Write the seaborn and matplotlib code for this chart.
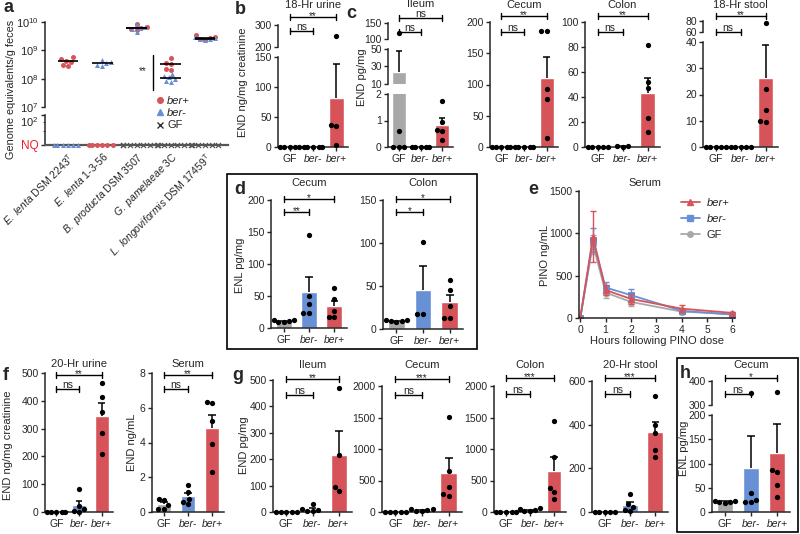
import numpy as np
import pandas as pd
import matplotlib
matplotlib.use("Agg")
import matplotlib.pyplot as plt
import seaborn as sns
from matplotlib.lines import Line2D
from matplotlib.patches import Rectangle
from matplotlib.transforms import blended_transform_factory, Bbox, TransformedBbox

sns.set_style("ticks")
plt.rcParams["font.family"] = ["Liberation Sans", "DejaVu Sans"]
plt.rcParams["mathtext.fontset"] = "custom"
plt.rcParams["mathtext.rm"] = "Liberation Sans"
plt.rcParams["mathtext.it"] = "Liberation Sans:italic"
plt.rcParams["axes.linewidth"] = 1.1
plt.rcParams["xtick.major.width"] = 1.0
plt.rcParams["ytick.major.width"] = 1.0
plt.rcParams["xtick.major.size"] = 3
plt.rcParams["ytick.major.size"] = 3
plt.rcParams["ytick.minor.size"] = 1.8
plt.rcParams["xtick.labelsize"] = 7.5
plt.rcParams["ytick.labelsize"] = 7.5
plt.rcParams["xtick.major.pad"] = 2
plt.rcParams["ytick.major.pad"] = 1.5

W, H = 800, 534
RED, BLUE, GRAY = "#d65459", "#6890d4", "#a8a8a8"
GROUPS = ["GF", "ber-", "ber+"]
PALETTE = dict(zip(GROUPS, [GRAY, BLUE, RED]))

# ---- a: genome equivalents / g feces
a_species = ["E. lenta DSM 2243", "E. lenta 1-3-56", "B. producta DSM 3507",
             "G. pamelaeae 3C", "L. longoviformis DSM 17459"]
a_labels = [r"$\it{E.\ lenta}$ DSM 2243$^{\rm T}$", r"$\it{E.\ lenta}$ 1-3-56",
            r"$\it{B.\ producta}$ DSM 3507", r"$\it{G.\ pamelaeae}$ 3C",
            r"$\it{L.\ longoviformis}$ DSM 17459$^{\rm T}$"]
a_ber_plus = [[5.6e8, 4.8e8, 4.2e8, 3.9e8, 3.0e8, 2.8e8], [],
              [8.2e9, 6.6e9, 6.2e9, 5.8e9, 5.4e9],
              [5.4e8, 3.6e8, 3.3e8, 2.2e8, 2.0e8],
              [3.4e9, 2.9e9, 2.7e9, 2.6e9, 2.4e9]]
a_ber_minus = [[], [4.6e8, 3.8e8, 3.5e8, 3.0e8, 2.7e8],
               [8.6e9, 6.9e9, 6.3e9, 5.6e9, 4.6e9],
               [1.5e8, 1.25e8, 1.1e8, 9.5e7, 8.0e7, 7.5e7],
               [3.0e9, 2.8e9, 2.6e9, 2.5e9, 2.3e9]]
a_nq_plus = [0, 6, 0, 0, 0]
a_nq_minus = [6, 0, 0, 0, 0]
a_nq_gf = [0, 0, 6, 6, 6]
NQ = 1.0

# ---- b-d, f-h: per-mouse values
b_urine = {"GF": [0, 0, 0, 0, 0], "ber-": [0, 0, 0, 0, 0], "ber+": [250, 36, 35, 3]}
c_ileum = {"GF": [120, 0.6, 0, 0, 0], "ber-": [0, 0, 0, 0, 0], "ber+": [1.75, 0.95, 0.65, 0.6, 0.25]}
c_cecum = {"GF": [0, 0, 0, 0, 0], "ber-": [0, 0, 0, 0, 0], "ber+": [185, 185, 93, 77, 14]}
c_colon = {"GF": [0, 0, 0, 0, 0], "ber-": [1, 0.5, 0], "ber+": [82, 52, 47, 23, 12]}
c_stool = {"GF": [0, 0, 0, 0, 0], "ber-": [0, 0, 0, 0, 0], "ber+": [76, 22, 14, 10, 9.5]}
d_cecum = {"GF": [13, 12, 11, 10, 9], "ber-": [146, 50, 37, 24, 24], "ber+": [63, 45, 27, 17, 17]}
d_colon = {"GF": [10, 10, 9, 9, 8], "ber-": [101, 17, 17], "ber+": [57, 45, 27, 13, 13]}
f_urine = {"GF": [0, 0, 0, 0, 0], "ber-": [82, 22, 10, 5, 0], "ber+": [465, 415, 360, 285, 210]}
f_serum = {"GF": [0.75, 0.7, 0.4, 0.2, 0.2], "ber-": [1.55, 1.15, 0.75, 0.6, 0.45],
           "ber+": [6.35, 6.25, 5.25, 3.9, 2.3]}
g_ileum = {"GF": [0, 0, 0, 0, 0], "ber-": [32, 10, 6, 4, 2], "ber+": [470, 215, 95, 80]}
g_cecum = {"GF": [0, 0, 0, 0, 0], "ber-": [55, 40, 30, 20, 10], "ber+": [1510, 650, 400, 280, 250]}
g_colon = {"GF": [0, 0, 0, 0, 0], "ber-": [60, 40, 25, 15, 10], "ber+": [1450, 880, 380, 320, 210]}
g_stool = {"GF": [0, 0, 0, 0, 0], "ber-": [82, 38, 25, 10, 5], "ber+": [530, 400, 360, 285, 250]}
h_cecum = {"GF": [23, 22, 21, 20, 19], "ber-": [350, 40, 25, 20, 20], "ber+": [355, 87, 82, 55, 30]}

# ---- e: serum PINO time course (mean, sem)
e_hours = [0, 0.5, 1, 2, 4, 6]
e_gf_mean = [0, 870, 300, 190, 75, 45]
e_gf_sem = [0, 110, 60, 50, 20, 10]
e_minus_mean = [0, 920, 360, 270, 85, 40]
e_minus_sem = [0, 140, 70, 70, 20, 10]
e_plus_mean = [0, 960, 330, 225, 110, 60]
e_plus_sem = [0, 300, 60, 55, 45, 12]

fig = plt.figure(figsize=(W / 100, H / 100), dpi=100)


def pax(x0, y0, x1, y1):
    return fig.add_axes([x0 / W, 1 - y1 / H, (x1 - x0) / W, (y1 - y0) / H])


def ftext(x, y, s, **kw):
    fig.text(x / W, 1 - y / H, s, **kw)


def extend_clip(ax, colls, down=0, up=0):
    h = ax.get_position().height * H
    bb = TransformedBbox(Bbox([[-0.2, -down / h], [1.2, 1 + up / h]]), ax.transAxes)
    for c in colls:
        c.set_clip_box(bb)


def long_df(d):
    return pd.DataFrame({"group": [g for g in GROUPS for _ in d[g]],
                         "value": [v for g in GROUPS for v in d[g]]})


def bracket(ax, i, j, ypx, text):
    tr = blended_transform_factory(ax.transData, fig.transFigure)
    y, d = 1 - ypx / H, 3 / H
    ax.add_line(Line2D([i, j], [y, y], transform=tr, color="k", lw=1, clip_on=False))
    for x in (i, j):
        ax.add_line(Line2D([x, x], [y - d, y + d], transform=tr, color="k", lw=1, clip_on=False))
    if text == "ns":
        ax.text((i + j) / 2, y + 1 / H, text, transform=tr, ha="center", va="baseline", fontsize=7.5)
    else:
        ax.text((i + j) / 2, y - 2.5 / H, text, transform=tr, ha="center", va="baseline", fontsize=7)


def bar_panel(d, x0, x1, segs, title, title_y, sigs):
    df = long_df(d)
    stats = df.groupby("group")["value"].agg(["mean", "sem"]).reindex(GROUPS).fillna(0)
    axes = []
    for k, (lo, hi, yb, yt, ticks) in enumerate(segs):
        ax = pax(x0, yt, x1, yb)
        sns.barplot(df, x="group", y="value", hue="group", order=GROUPS, hue_order=GROUPS,
                    palette=PALETTE, saturation=1, errorbar=None, width=0.62,
                    legend=False, ax=ax, zorder=1)
        for i, g in enumerate(GROUPS):
            m, s = stats.loc[g, "mean"], stats.loc[g, "sem"]
            if s > 0:
                ax.vlines(i, m, m + s, color="k", lw=1.1, zorder=2)
                ax.hlines(m + s, i - 0.15, i + 0.15, color="k", lw=1.1, zorder=2)
        n = len(ax.collections)
        sns.swarmplot(df, x="group", y="value", order=GROUPS, color="k", size=3.8,
                      ax=ax, zorder=3, warn_thresh=1)
        ax.set_ylim(lo, hi)
        ax.set_yticks(ticks)
        ax.set_xlim(-0.5, 2.5)
        ax.set_xlabel("")
        ax.set_ylabel("")
        sns.despine(ax=ax)
        extend_clip(ax, ax.collections[n:], down=4 if k == 0 else 0,
                    up=4 if k == len(segs) - 1 else 0)
        if k == 0:
            ax.set_xticks(range(3))
            ax.set_xticklabels(GROUPS)
            for t in ax.get_xticklabels()[1:]:
                t.set_fontstyle("italic")
        else:
            ax.spines["bottom"].set_visible(False)
            ax.tick_params(axis="x", bottom=False, labelbottom=False)
        axes.append(ax)
    ftext((x0 + x1) / 2, title_y, title, ha="center", va="center", fontsize=8)
    for i, j, y, s in sigs:
        bracket(axes[-1], i, j, y, s)
    return axes


# ================= panel a =================
def a_frame(vals_list, nq_counts):
    rows = []
    for sp, vals, nq in zip(a_species, vals_list, nq_counts):
        rows += [(sp, v) for v in vals] + [(sp, NQ) for _ in range(nq)]
    return pd.DataFrame(rows, columns=["species", "value"])


a_up = pax(45, 22, 228, 107)
a_lo = pax(45, 115, 228, 145)
a_up.set_yscale("log")
a_lo.set_yscale("log")
empty = [[] for _ in a_species]
a_sets = [(a_ber_plus, a_nq_plus, RED, "o", 0), (a_ber_minus, a_nq_minus, BLUE, "^", 0),
          (empty, a_nq_gf, "#555555", "x", 0.9)]
for vals, nq, col, mk, lw in a_sets:
    up_df = a_frame(vals, [0] * len(a_species))
    lo_df = a_frame(empty, nq)
    if len(up_df):
        sns.swarmplot(up_df, x="species", y="value", order=a_species, color=col, marker=mk,
                      size=3.6, ax=a_up, zorder=3)
    n = len(a_lo.collections)
    sns.swarmplot(lo_df, x="species", y="value", order=a_species, color=col, marker=mk,
                  size=3.6, linewidth=lw, ax=a_lo, zorder=3)
    extend_clip(a_lo, a_lo.collections[n:], down=5)
    for i, v in enumerate(vals):
        if len(v):
            a_up.hlines(np.median(v), i - 0.3, i + 0.3, color="k", lw=1.2, zorder=4)

a_up.set_ylim(1e7, 1e10)
a_up.set_yticks([1e7, 1e8, 1e9, 1e10])
a_lo.set_ylim(1, 100)
a_lo.set_yticks([1, 100])
a_lo.set_yticklabels(["NQ", "$10^2$"])
a_lo.set_yticks([8, 35], minor=True)
a_lo.tick_params(axis="y", which="minor", labelleft=False)
for ax in (a_up, a_lo):
    ax.set_xlim(-0.67, 4.67)
    ax.set_xlabel("")
    ax.set_ylabel("")
    sns.despine(ax=ax)
    ax.tick_params(axis="y", labelsize=8)
a_lo.get_yticklabels()[0].set_color("#e8202a")
a_lo.get_yticklabels()[0].set_fontsize(8.5)
a_lo.get_yticklabels()[1].set_va("top")
a_up.spines["bottom"].set_visible(False)
a_up.tick_params(axis="x", bottom=False, labelbottom=False)
a_lo.spines["bottom"].set_color("#555555")
a_lo.spines["bottom"].set_linewidth(1.6)
a_lo.set_xticks(range(len(a_species)))
a_lo.set_xticklabels(a_labels, rotation=45, ha="right", rotation_mode="anchor", fontsize=7.5)
a_lo.tick_params(axis="x", length=0, pad=4)
a_up.plot([2.48, 2.48], [7e8, 4e7], color="k", lw=1)
a_up.text(2.3, 1.8e8, "**", ha="right", va="center", fontsize=7)
ftext(11, 89, "Genome equivalents/g feces", rotation=90, ha="center", va="center", fontsize=7.8)
a_handles = [Line2D([], [], color=RED, marker="o", ls="", ms=4),
             Line2D([], [], color=BLUE, marker="^", ls="", ms=4),
             Line2D([], [], color="#333333", marker="x", ls="", ms=5, mew=1)]
leg = fig.legend(a_handles, ["ber+", "ber-", "GF"], loc="upper left",
                 bbox_to_anchor=(156 / W, 1 - 96 / H), frameon=False, fontsize=8,
                 handlelength=0.7, handletextpad=0.3, labelspacing=0.2,
                 borderaxespad=0, borderpad=0)
for t in leg.get_texts()[:2]:
    t.set_fontstyle("italic")

# ================= panels b, c =================
bar_panel(b_urine, 278, 348, [(0, 150, 147, 57, [0, 50, 100, 150]), (200, 300, 47, 25, [200, 300])],
          "18-Hr urine", 5, [(0, 2, 17, "**"), (0, 1, 31, "ns")])
ftext(243, 82, "END ng/mg creatinine", rotation=90, ha="center", va="center", fontsize=8)

bar_panel(c_ileum, 388, 453, [(0, 2, 147, 94, [0, 1, 2]), (10, 50, 84, 49, [10, 30, 50]),
                              (100, 150, 39, 23, [100, 150])],
          "Ileum", 4, [(0, 2, 18, "ns"), (0, 1, 32, "ns")])
ftext(362, 77, "END pg/mg", rotation=90, ha="center", va="center", fontsize=8)

bar_panel(c_cecum, 490, 558, [(0, 200, 147, 22, [0, 50, 100, 150, 200])],
          "Cecum", 5, [(0, 2, 16, "**"), (0, 1, 32, "ns")])
bar_panel(c_colon, 585, 660, [(0, 100, 147, 22, [0, 20, 40, 60, 80, 100])],
          "Colon", 5, [(0, 2, 16, "**"), (0, 1, 32, "ns")])
bar_panel(c_stool, 703, 778, [(0, 40, 147, 42, [0, 10, 20, 30, 40]), (60, 80, 32, 21, [60, 80])],
          "18-Hr stool", 5, [(0, 2, 16, "**"), (0, 1, 32, "ns")])

# ================= panel d =================
bar_panel(d_cecum, 271, 347, [(0, 200, 328, 200, [0, 50, 100, 150, 200])],
          "Cecum", 183, [(0, 2, 199, "*"), (0, 1, 212, "**")])
bar_panel(d_colon, 383, 463, [(0, 150, 329, 200, [0, 50, 100, 150])],
          "Colon", 183, [(0, 2, 199, "*"), (0, 1, 212, "*")])
ftext(240, 265, "ENL pg/mg", rotation=90, ha="center", va="center", fontsize=8)
fig.add_artist(Rectangle((227 / W, 1 - 349 / H), 250 / W, 175 / H, transform=fig.transFigure,
                         fill=False, ec="k", lw=1.2))

# ================= panel e =================
ax_e = pax(579, 191, 735, 318)
e_series = [(e_gf_mean, e_gf_sem, GRAY, "o"), (e_minus_mean, e_minus_sem, BLUE, "s"),
            (e_plus_mean, e_plus_sem, RED, "^")]
for mean, sem, col, mk in e_series:
    sns.lineplot(x=e_hours, y=mean, color=col, marker=mk, ms=4.5, mec=col, lw=1.3, ax=ax_e)
    ax_e.errorbar(e_hours, mean, yerr=sem, fmt="none", ecolor=col, elinewidth=1, capsize=2.5)
ax_e.set_xlim(-0.05, 6.1)
ax_e.set_ylim(0, 1500)
ax_e.set_yticks([0, 500, 1000, 1500])
ax_e.set_xticks(range(7))
sns.despine(ax=ax_e)
ax_e.set_xlabel("Hours following PINO dose", fontsize=8, labelpad=1)
ax_e.set_ylabel("")
ftext(545, 255, "PINO ng/mL", rotation=90, ha="center", va="center", fontsize=8)
ftext(645, 183, "Serum", ha="center", va="center", fontsize=8)
e_handles = [Line2D([], [], color=RED, marker="^", ms=4.5, lw=1.3),
             Line2D([], [], color=BLUE, marker="s", ms=4, lw=1.3),
             Line2D([], [], color=GRAY, marker="o", ms=4, lw=1.3)]
leg_e = fig.legend(e_handles, ["ber+", "ber-", "GF"], loc="upper left",
                   bbox_to_anchor=(681 / W, 1 - 198 / H), frameon=False, fontsize=8,
                   handlelength=1.7, handletextpad=0.6, labelspacing=0.55,
                   borderaxespad=0, borderpad=0)
for t in leg_e.get_texts()[:2]:
    t.set_fontstyle("italic")

# ================= panel f =================
bar_panel(f_urine, 45, 113, [(0, 500, 512, 373, [0, 100, 200, 300, 400, 500])],
          "20-Hr urine", 364, [(0, 2, 375, "**"), (0, 1, 389, "ns")])
ftext(8, 445, "END ng/mg creatinine", rotation=90, ha="center", va="center", fontsize=8)
bar_panel(f_serum, 152, 224, [(0, 8, 512, 373, [0, 2, 4, 6, 8])],
          "Serum", 364, [(0, 2, 375, "**"), (0, 1, 389, "ns")])
ftext(132, 442, "END ng/mL", rotation=90, ha="center", va="center", fontsize=8)

# ================= panel g =================
bar_panel(g_ileum, 273, 352, [(0, 500, 512, 380, [0, 100, 200, 300, 400, 500])],
          "Ileum", 365, [(0, 2, 379, "**"), (0, 1, 395, "ns")])
bar_panel(g_cecum, 382, 462, [(0, 2000, 512, 386, [0, 500, 1000, 1500, 2000])],
          "Cecum", 365, [(0, 2, 379, "***"), (0, 1, 395, "ns")])
bar_panel(g_colon, 494, 566, [(0, 2000, 512, 386, [0, 500, 1000, 1500, 2000])],
          "Colon", 365, [(0, 2, 378, "***"), (0, 1, 394, "ns")])
bar_panel(g_stool, 592, 668, [(0, 600, 512, 381, [0, 200, 400, 600])],
          "20-Hr stool", 365, [(0, 2, 378, "***"), (0, 1, 394, "ns")])
ftext(244, 445, "END pg/mg", rotation=90, ha="center", va="center", fontsize=8)

# ================= panel h =================
bar_panel(h_cecum, 712, 790, [(0, 200, 512, 415, [0, 50, 100, 150, 200]),
                              (300, 400, 405, 381, [300, 400])],
          "Cecum", 365, [(0, 2, 378, "*"), (0, 1, 394, "ns")])
ftext(684, 448, "ENL pg/mg", rotation=90, ha="center", va="center", fontsize=8)
fig.add_artist(Rectangle((677 / W, 1 - 532 / H), 121 / W, 174 / H, transform=fig.transFigure,
                         fill=False, ec="k", lw=1.2))

# panel letters
for letter, x, y in [("a", 3, 8), ("b", 235, 10), ("c", 346, 13), ("d", 234, 189),
                     ("e", 528, 189), ("f", 3, 376), ("g", 232, 375), ("h", 680, 373)]:
    ftext(x, y, letter, ha="left", va="center", fontsize=13, fontweight="bold")

fig.savefig("out.png", dpi=100)
